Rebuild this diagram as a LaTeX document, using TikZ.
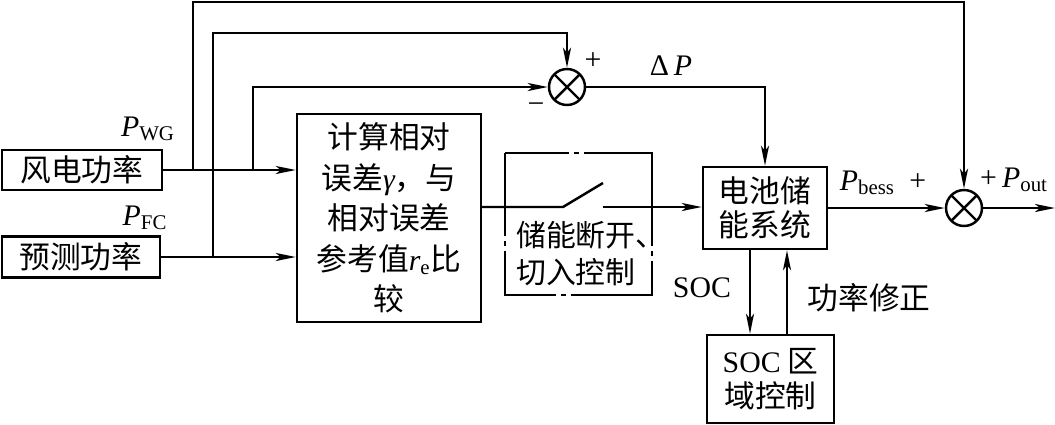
\documentclass[tikz,border=0pt]{standalone}
\usepackage{fontspec}
\setmainfont{Noto Sans CJK SC}
\newfontfamily\lat[Scale=0.97]{Liberation Serif}
\usepackage{tikz}
\usetikzlibrary{positioning, arrows.meta}
\newcommand{\Pvar}[1]{{\lat\itshape P}{\lat\textsubscript{#1}}}

\begin{document}
\begin{tikzpicture}[x=0.02cm, y=-0.02cm, line width=1.4pt,
    font=\fontsize{17.5}{19.5}\selectfont,
    >={Stealth[length=4mm, width=1.6mm, inset=1mm]},
    block/.style={draw, align=center, inner sep=0pt},
    sumnode/.style={circle, draw, inner sep=0pt, minimum size=0.72cm,
        path picture={\draw (path picture bounding box.north west) -- (path picture bounding box.south east)
                            (path picture bounding box.south west) -- (path picture bounding box.north east);}}]
    \useasboundingbox (0,0) rectangle (1055,424);

    % Blocks
    \node[block, minimum width=3.2cm, minimum height=0.8cm] (wind) at (82,170) {风电功率};
    \node[block, minimum width=3.16cm, minimum height=0.82cm] (fcst) at (81,257) {预测功率};
    \node[block, minimum width=3.68cm, minimum height=4.16cm, font=\fontsize{17.5}{23}\selectfont] (calc) at (389,218)
        {计算相对\\误差{\lat\itshape γ}，与\\相对误差\\参考值{\lat\itshape r}{\lat\textsubscript{e}}比\\较};
    \node[minimum width=2.9cm, minimum height=2.8cm, inner sep=0pt] (swbox) at (578.5,224) {};
    \node[align=left, anchor=west, inner sep=0pt, font=\fontsize{17}{21}\selectfont] (swtxt) at (515,254) {储能断开、\\切入控制};
    \node[block, minimum width=2.48cm, minimum height=1.64cm] (batt) at (765,208) {电池储\\能系统};
    \node[block, minimum width=2.54cm, minimum height=1.76cm] (soc) at (770.5,379) {{\lat SOC} 区\\域控制};

    % Summing points
    \node[sumnode] (sum1) at (567,87) {};
    \node[sumnode] (sum2) at (964,208) {};

    % Branch points and corners
    \coordinate (j1) at (193,170);
    \coordinate (j2) at (213,257);
    \coordinate (j3) at (253,170);
    \coordinate (t1) at (193,2);
    \coordinate (t2) at (213,33);
    \coordinate (s1) at (563,207);
    \coordinate (s2) at (603,183);
    \coordinate (s3) at (603,207);
    \coordinate (out) at (1055,208);

    % Inputs
    \draw[->] (wind.east) -- (calc.west |- wind.east);
    \draw[->] (fcst.east) -- (calc.west |- fcst.east);

    % Feedback lines
    \draw[->] (j1) -- (t1) -| (sum2.north);
    \draw[->] (j2) -- (t2) -| (sum1.north);
    \draw[->] (j3) |- (sum1.west);
    \draw[->] (sum1.east) -| (batt.north);

    % Switch and its dash-dotted frame
    \draw[line width=1pt, dash pattern={on 1.66cm off 0.1cm on 0.1cm off 0.1cm on 1.92cm off 0.1cm on 0.1cm off 0.1cm
        on 2.3cm off 0.1cm on 0.1cm off 0.1cm on 3.24cm off 0.1cm on 0.1cm off 0.1cm on 4cm}]
        (swbox.north west) rectangle (swbox.south east);
    \draw (calc.east |- s1) -- (s1) -- (s2);
    \draw[->] (s3) -- (batt.west |- s3);

    % Output
    \draw[->] (batt.east) -- (sum2.west);
    \draw[->] (sum2.east) -- (out);

    % SOC loop
    \draw[->] ([xshift=-0.3cm]batt.south) -- ([xshift=-0.3cm]batt.south |- soc.north);
    \draw[->] ([xshift=0.44cm]batt.south |- soc.north) -- ([xshift=0.44cm]batt.south);

    % Labels
    \node (lwg) at (148,129) {\Pvar{WG}};
    \node (lfc) at (145,218) {\Pvar{FC}};
    \node (lplus) at (593,61) {\lat +};
    \node (lminus) at (536,108) {\lat −};
    \node (ldp) at (671,66) {\lat Δ\,\textit{P}};
    \node (lbess) at (883,183) {\Pvar{bess} {\lat\ +}};
    \node (lout) at (1014,180) {{\lat +}\,\Pvar{out}};
    \node (lsoc) at (702,288) {\lat SOC};
    \node (lcorr) at (869,298) {功率修正};
\end{tikzpicture}
\end{document}
